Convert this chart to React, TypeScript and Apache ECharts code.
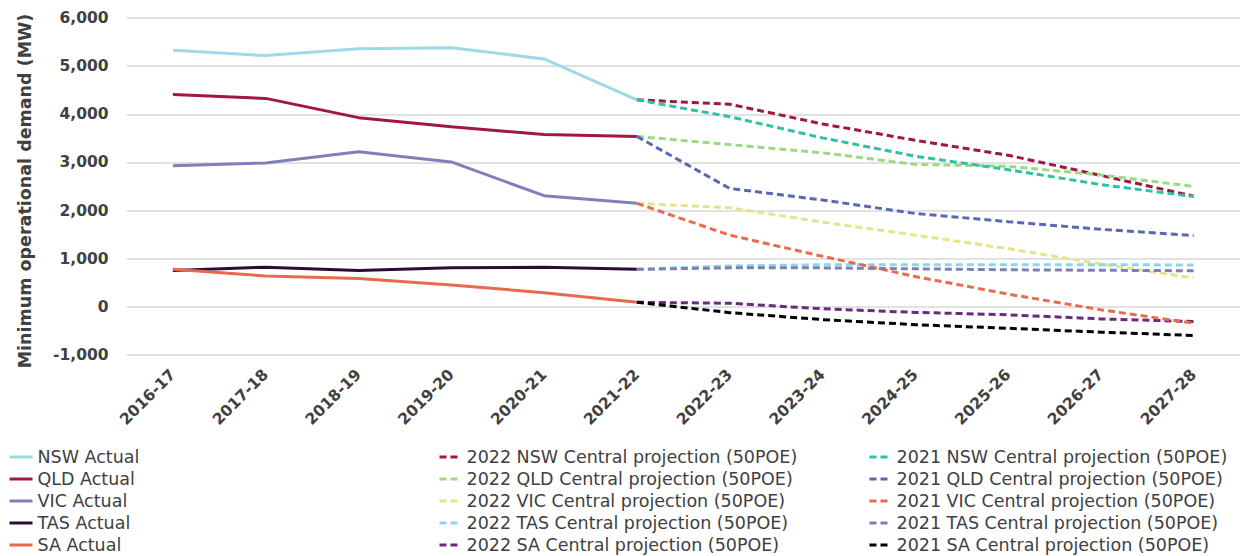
import React, { useEffect, useRef } from "react";
import * as echarts from "echarts";

const categories = [
  "2016-17", "2017-18", "2018-19", "2019-20", "2020-21", "2021-22",
  "2022-23", "2023-24", "2024-25", "2025-26", "2026-27", "2027-28",
];

// Actuals: 2016-17 .. 2021-22
const nswActual = [5330, 5220, 5360, 5380, 5150, 4300];
const qldActual = [4410, 4330, 3930, 3740, 3580, 3540];
const vicActual = [2930, 2990, 3220, 3010, 2310, 2150];
const tasActual = [755, 825, 755, 810, 825, 780];
const saActual = [780, 640, 590, 455, 295, 95];

// Projections: 2021-22 .. 2027-28
const p2022NSW = [4300, 4210, 3800, 3460, 3150, 2730, 2300];
const p2022QLD = [3540, 3370, 3200, 2960, 2920, 2740, 2500];
const p2022VIC = [2150, 2060, 1760, 1490, 1210, 890, 600];
const p2022TAS = [780, 850, 875, 875, 875, 875, 870];
const p2022SA = [95, 75, -40, -115, -165, -250, -305];

const p2021NSW = [4300, 3950, 3510, 3130, 2850, 2540, 2290];
const p2021QLD = [3540, 2460, 2220, 1940, 1770, 1610, 1480];
const p2021VIC = [2150, 1490, 1050, 630, 265, -60, -340];
const p2021TAS = [780, 810, 810, 790, 770, 760, 750];
const p2021SA = [95, -120, -265, -370, -445, -525, -595];

const yTicks = { min: -1000, max: 6000, interval: 1000 };

const FONT = "DejaVu Sans";
const TEXT = "#404040";

const actualSeries = [
  { name: "NSW Actual", data: nswActual, color: "#9ED9E8" },
  { name: "QLD Actual", data: qldActual, color: "#A0173F" },
  { name: "VIC Actual", data: vicActual, color: "#7F80B5" },
  { name: "TAS Actual", data: tasActual, color: "#2D0B38" },
  { name: "SA Actual", data: saActual, color: "#E9694F" },
];
const proj2022 = [
  { name: "2022 NSW Central projection (50POE)", data: p2022NSW, color: "#A0173F" },
  { name: "2022 QLD Central projection (50POE)", data: p2022QLD, color: "#9DD983" },
  { name: "2022 VIC Central projection (50POE)", data: p2022VIC, color: "#E6E38B" },
  { name: "2022 TAS Central projection (50POE)", data: p2022TAS, color: "#8ED5EA" },
  { name: "2022 SA Central projection (50POE)", data: p2022SA, color: "#6A2B7E" },
];
const proj2021 = [
  { name: "2021 NSW Central projection (50POE)", data: p2021NSW, color: "#2CC2A6" },
  { name: "2021 QLD Central projection (50POE)", data: p2021QLD, color: "#5A68B4" },
  { name: "2021 VIC Central projection (50POE)", data: p2021VIC, color: "#EB6B4F" },
  { name: "2021 TAS Central projection (50POE)", data: p2021TAS, color: "#7F80B2" },
  { name: "2021 SA Central projection (50POE)", data: p2021SA, color: "#000000" },
];

function buildOption() {
  const nActual = categories.length - nswActual.length;
  const nProj = categories.length - p2022NSW.length;
  const mk = (s: any, dashed: boolean) => ({
    type: "line",
    name: s.name,
    data: dashed
      ? [...new Array(nProj).fill(null), ...s.data]
      : [...s.data, ...new Array(nActual).fill(null)],
    symbol: "none",
    connectNulls: false,
    color: s.color,
    lineStyle: {
      color: s.color,
      width: 3,
      type: dashed ? [7, 4] : "solid",
    },
    itemStyle: { color: s.color },
    emphasis: { disabled: true },
  });

  const legendBase = {
    orient: "vertical",
    top: 448,
    padding: 0,
    itemHeight: 10,
    itemGap: 4,
    selectedMode: false,
    itemStyle: { opacity: 0 },
    lineStyle: { width: 3 },
    textStyle: {
      fontFamily: FONT,
      fontSize: 17.5,
      color: TEXT,
      lineHeight: 18,
    },
  };

  return {
    animation: false,
    backgroundColor: "#ffffff",
    grid: { left: 126.5, right: -10, top: 18, bottom: 201, containLabel: false },
    xAxis: {
      type: "category",
      data: categories,
      boundaryGap: true,
      axisLine: { show: false },
      axisTick: { show: false },
      axisLabel: {
        interval: 0,
        rotate: 45,
        margin: 17,
        fontFamily: FONT,
        fontWeight: "bold",
        fontSize: 15.5,
        color: TEXT,
      },
    },
    yAxis: {
      type: "value",
      min: yTicks.min,
      max: yTicks.max,
      interval: yTicks.interval,
      axisLine: { show: false },
      axisTick: { show: false },
      splitLine: { lineStyle: { color: "#D9D9D9", width: 1.5 } },
      axisLabel: {
        margin: 18,
        fontFamily: FONT,
        fontWeight: "bold",
        fontSize: 15.5,
        color: TEXT,
        formatter: (v: number) => v.toLocaleString("en-US"),
      },
    },
    legend: [
      { ...legendBase, left: 8, itemWidth: 23, data: actualSeries.map((s) => s.name) },
      { ...legendBase, left: 438, itemWidth: 22, data: proj2022.map((s) => s.name) },
      { ...legendBase, left: 868, itemWidth: 22, data: proj2021.map((s) => s.name) },
    ],
    graphic: [
      {
        type: "text",
        x: 25,
        y: 191,
        rotation: Math.PI / 2,
        style: {
          text: "Minimum operational demand (MW)",
          fontFamily: FONT,
          fontWeight: "bold",
          fontSize: 17.5,
          fill: TEXT,
          align: "center",
          verticalAlign: "middle",
        },
      },
    ],
    series: [
      ...actualSeries.map((s) => mk(s, false)),
      ...proj2022.map((s) => mk(s, true)),
      ...proj2021.map((s) => mk(s, true)),
    ],
  };
}

export default function App() {
  const ref = useRef<HTMLDivElement>(null);
  useEffect(() => {
    if (!ref.current) return;
    const chart = echarts.init(ref.current, null, { renderer: "svg" });
    chart.setOption(buildOption() as any);
    return () => chart.dispose();
  }, []);
  return (
    <div
      ref={ref}
      style={{ position: "absolute", left: 0, top: 0, width: 1240, height: 556 }}
    />
  );
}
